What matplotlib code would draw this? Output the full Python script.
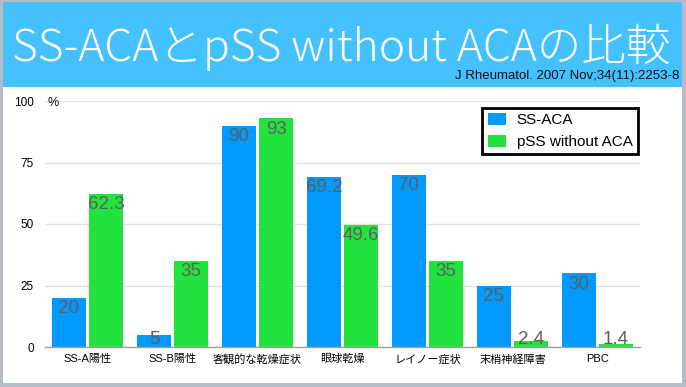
import matplotlib
matplotlib.use("Agg")
import matplotlib.pyplot as plt
import numpy as np
from matplotlib.patches import Rectangle

plt.rcParams['font.family'] = ['Liberation Sans', 'Noto Sans CJK JP', 'DejaVu Sans']

CATEGORIES = ["SS-A陽性", "SS-B陽性", "客観的な乾燥症状", "眼球乾燥", "レイノー症状", "末梢神経障害", "PBC"]
SS_ACA = [20, 5, 90, 69.2, 70, 25, 30]
PSS_NO_ACA = [62.3, 35, 93, 49.6, 35, 2.4, 1.4]
SERIES = ["SS-ACA", "pSS without ACA"]
YTICKS = [0, 25, 50, 75, 100]

TITLE = "SS-ACAとpSS without ACAの比較"
SOURCE = "J Rheumatol. 2007 Nov;34(11):2253-8"

BLUE = "#0099FF"
GREEN = "#22E23E"
BAND = "#45C1FF"
LABEL_GREY = "#5F5F5F"

W, H = 686, 387
fig = plt.figure(figsize=(W / 100, H / 100), dpi=100)
fig.patch.set_facecolor("white")

# outer frame + title band
fig.patches.append(Rectangle((0, 0), 1, 1, transform=fig.transFigure,
                             facecolor="#B4BCC8", edgecolor="none", zorder=-3))
fig.patches.append(Rectangle((3 / W, 1 - 383 / H), 679 / W, 381 / H, transform=fig.transFigure,
                             facecolor="white", edgecolor="none", zorder=-2))
fig.patches.append(Rectangle((3 / W, 1 - 87 / H), 679 / W, 85 / H, transform=fig.transFigure,
                             facecolor=BAND, edgecolor="none", zorder=-1))

fig.text(12 / W, 1 - 47 / H, TITLE, color="white", fontsize=32, va="center", ha="left",
         family=["Noto Sans CJK JP"], fontweight="light")
fig.text(679 / W, 1 - 76 / H, SOURCE, color="#111111", fontsize=9.5, va="center", ha="right")

# axes: x from 45 to 640 px, y=0 at 347 px, y=100 at 101 px
x0, x1 = 45, 640
y0, y1 = 347, 101
ax = fig.add_axes([x0 / W, 1 - y0 / H, (x1 - x0) / W, (y0 - y1) / H])
ax.set_facecolor("none")
ax.set_zorder(2)

n = len(CATEGORIES)
x = np.arange(n)
bw = 0.4
gap = 0.018
ax.bar(x - bw / 2 - gap, SS_ACA, width=bw, color=BLUE, label=SERIES[0], zorder=2)
ax.bar(x + bw / 2 + gap, PSS_NO_ACA, width=bw, color=GREEN, label=SERIES[1], zorder=2)

for xs, vals in [(x - bw / 2 - gap, SS_ACA), (x + bw / 2 + gap, PSS_NO_ACA)]:
    for xi, v in zip(xs, vals):
        top = max(v - 1.0, 6.6)
        ax.text(xi, top, f"{v:g}", ha="center", va="top", fontsize=13.5,
                color=LABEL_GREY, zorder=3)

ax.set_xlim(-0.5, n - 0.5)
ax.set_ylim(0, 100)
ax.set_yticks(YTICKS)
ax.set_yticklabels([str(t) for t in YTICKS])
ax.set_xticks(x)
ax.set_xticklabels(CATEGORIES, fontsize=8)
ax.tick_params(axis="y", length=0, pad=8, labelsize=8.5)
ax.tick_params(axis="x", length=0, pad=5)
ax.grid(axis="y", color="#E2E2E2", linewidth=1, zorder=0)
ax.set_axisbelow(True)
for s in ["top", "right", "left"]:
    ax.spines[s].set_visible(False)
ax.spines["bottom"].set_color("#A0A0A0")
ax.spines["bottom"].set_linewidth(1)
ax.text(-0.475, 99.3, "%", ha="left", va="center", fontsize=9, color="#111111")

leg = ax.legend(loc="upper right", bbox_to_anchor=(0.9965, 0.9725), fontsize=11,
                frameon=True, fancybox=False, framealpha=1, handlelength=1.2, handleheight=0.8,
                borderpad=0.35, labelspacing=0.5, handletextpad=0.7, borderaxespad=0)
leg.get_frame().set_edgecolor("black")
leg.get_frame().set_linewidth(2)

fig.savefig("out.png", dpi=100, facecolor="white")
